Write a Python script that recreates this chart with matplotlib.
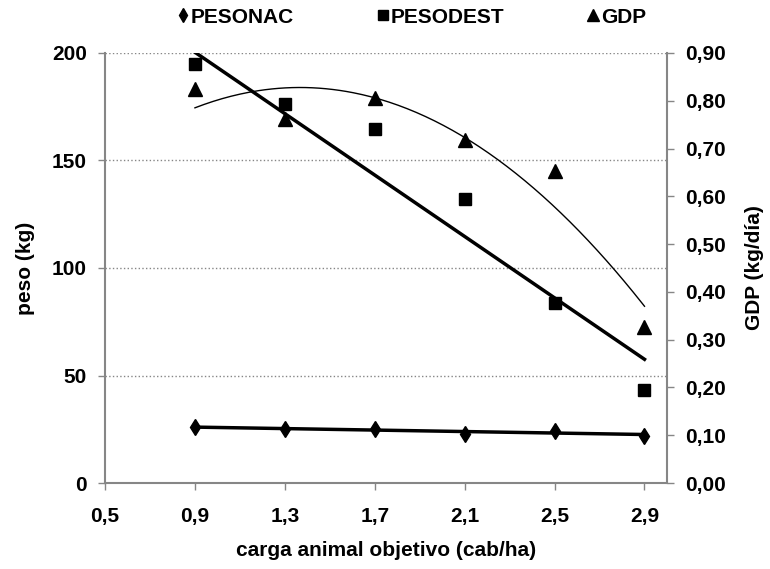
import numpy as np
import matplotlib
matplotlib.use("Agg")
import matplotlib.pyplot as plt
from matplotlib.lines import Line2D
from matplotlib.ticker import FuncFormatter

plt.rcParams['font.family'] = ['Liberation Sans', 'DejaVu Sans']
plt.rcParams['font.weight'] = 'bold'
plt.rcParams['axes.labelweight'] = 'bold'

# datos por carga animal
carga = [0.9, 1.3, 1.7, 2.1, 2.5, 2.9]
pesonac = [26.0, 25.1, 25.3, 22.8, 24.4, 22.1]
pesodest = [194.7, 176.1, 164.5, 132.1, 83.6, 43.3]
gdp = [0.825, 0.762, 0.805, 0.718, 0.652, 0.327]

# recta de tendencia de PESODEST (pendiente, ordenada)
pesodest_trend = [-71.4, 264.6]

x_ticks = [0.5, 0.9, 1.3, 1.7, 2.1, 2.5, 2.9]
peso_ticks = [0, 50, 100, 150, 200]
gdp_ticks = [0.0, 0.1, 0.2, 0.3, 0.4, 0.5, 0.6, 0.7, 0.8, 0.9]

gray = '#868686'
fs = 15

fig = plt.figure(figsize=(7.7, 5.69), dpi=100)
ax = fig.add_axes([0.1364, 0.1511, 0.8662 - 0.1364, 0.9069 - 0.1511])
ax2 = ax.twinx()

xx = np.linspace(carga[0], carga[-1], 200)

# PESONAC con su tendencia lineal
ax.plot(carga, pesonac, linestyle='none', marker='d', markersize=8,
        color='black', zorder=3)
c_nac = np.polyfit(carga, pesonac, 1)
ax.plot(xx, np.polyval(c_nac, xx), color='black', lw=2.5, zorder=3)

# PESODEST
ax.plot(carga, pesodest, linestyle='none', marker='s', markersize=8,
        color='black', zorder=3)
ax.plot(xx, np.polyval(pesodest_trend, xx), color='black', lw=2.5, zorder=3)

# GDP con tendencia polinómica de orden 2
ax2.plot(carga, gdp, linestyle='none', marker='^', markersize=10,
         color='black', zorder=3)
c_gdp = np.polyfit(carga, gdp, 2)
ax2.plot(xx, np.polyval(c_gdp, xx), color='black', lw=1.0, zorder=3)

ax.set_xlim(0.5, 3.0)
ax.set_ylim(0, 200)
ax2.set_ylim(0, 0.9)
ax.set_xticks(x_ticks)
ax.set_yticks(peso_ticks)
ax2.set_yticks(gdp_ticks)

ax.xaxis.set_major_formatter(FuncFormatter(lambda v, p: f"{v:.1f}".replace('.', ',')))
ax2.yaxis.set_major_formatter(FuncFormatter(lambda v, p: f"{v:.2f}".replace('.', ',')))

ax.yaxis.grid(True, linestyle=':', color=gray, lw=1)
ax.set_axisbelow(True)

for a in (ax, ax2):
    for s in a.spines.values():
        s.set_visible(False)
ax.spines['left'].set_visible(True)
ax.spines['bottom'].set_visible(True)
ax2.spines['right'].set_visible(True)
for s in (ax.spines['left'], ax.spines['bottom'], ax2.spines['right']):
    s.set_color(gray)
    s.set_linewidth(1.5)

ax.tick_params(axis='y', colors=gray, length=5, width=1, pad=8, labelsize=fs,
               labelcolor='black')
ax.tick_params(axis='x', colors=gray, length=5, width=1, pad=12, labelsize=fs,
               labelcolor='black')
ax2.tick_params(axis='y', colors=gray, length=5, width=1, pad=8, labelsize=fs,
                labelcolor='black')

ax.set_ylabel('peso (kg)', fontsize=fs, fontweight='bold', va='center')
ax.yaxis.set_label_coords(-0.1423, 0.5)
ax2.set_ylabel('GDP (kg/día)', fontsize=fs, fontweight='bold', va='center')
ax2.yaxis.set_label_coords(1.1566, 0.5)
ax.set_xlabel('carga animal objetivo (cab/ha)', fontsize=fs, fontweight='bold',
              va='center')
ax.xaxis.set_label_coords(0.5, -0.1558)

handles = [
    Line2D([], [], linestyle='none', marker='d', markersize=7, color='black'),
    Line2D([], [], linestyle='none', marker='s', markersize=7, color='black'),
    Line2D([], [], linestyle='none', marker='^', markersize=8, color='black'),
]
fig.legend(handles, ['PESONAC', 'PESODEST', 'GDP'], loc='center',
           bbox_to_anchor=(0.535, 0.970), ncol=3, frameon=False,
           handlelength=0.5, handletextpad=0.15, columnspacing=4.0,
           fontsize=fs)

fig.savefig('out.png', dpi=100)
